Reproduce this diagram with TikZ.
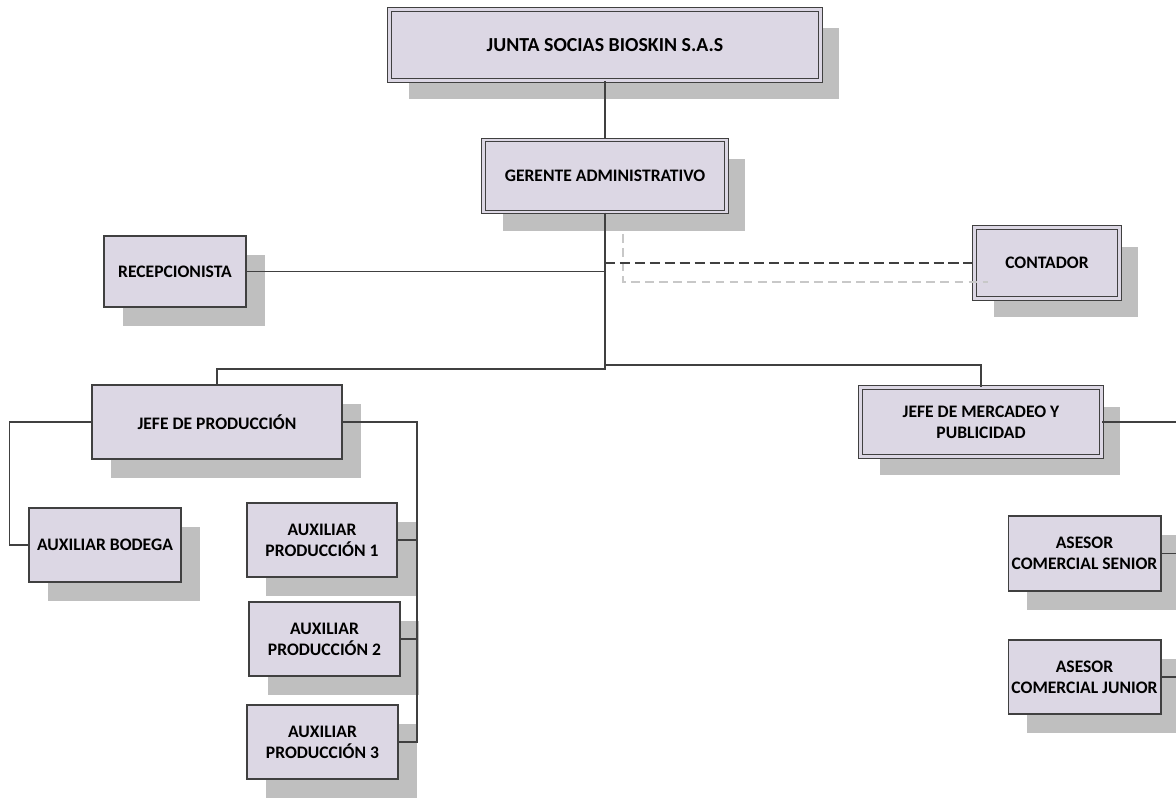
\documentclass[tikz,border=0pt]{standalone}
\usepackage{fontspec}
\setmainfont{Carlito}
\usetikzlibrary{shadows}
\definecolor{boxfill}{RGB}{220,215,228}
\definecolor{boxline}{RGB}{64,64,64}
\definecolor{shadowgray}{RGB}{191,191,191}
\definecolor{ghostgray}{RGB}{200,200,200}
\begin{document}
\begin{tikzpicture}[x=0.02cm, y=-0.02cm,
		orgbox/.style={draw=boxline, fill=boxfill, line width=0.6pt, inner sep=0pt, align=center,
			font=\bfseries\fontsize{10}{12}\selectfont,
			drop shadow={shadow xshift=0.38cm, shadow yshift=-0.38cm, fill=shadowgray, opacity=1}},
		dblbox/.style={orgbox, double=boxfill, double distance=1.6pt},
		link/.style={draw=boxline, line width=0.8pt},
		dashlink/.style={link, dash pattern=on 5.7pt off 2.8pt},
		ghostlink/.style={draw=ghostgray, line width=0.7pt, dash pattern=on 5pt off 3pt}]
	\path[use as bounding box] (0,0) rectangle (1176,800);
	\clip (0,0) rectangle (1176,800);
	\node[dblbox, minimum width=8.62cm, minimum height=1.42cm, font=\bfseries\fontsize{11.3}{13}\selectfont] (junta) at (605,45) {JUNTA SOCIAS BIOSKIN S.A.S};
	\node[dblbox, minimum width=4.86cm, minimum height=1.44cm] (gerente) at (605,176) {GERENTE ADMINISTRATIVO};
	\node[orgbox, minimum width=2.84cm, minimum height=1.42cm] (recep) at (175,271.5) {RECEPCIONISTA};
	\node[dblbox, minimum width=2.9cm, minimum height=1.42cm] (contador) at (1047,263) {CONTADOR};
	\node[orgbox, minimum width=5cm, minimum height=1.48cm] (jefeprod) at (217,422) {JEFE DE PRODUCCIÓN};
	\node[dblbox, minimum width=4.82cm, minimum height=1.38cm] (jefemerc) at (981,422) {JEFE DE MERCADEO Y\\PUBLICIDAD};
	\node[orgbox, minimum width=3.04cm, minimum height=1.48cm] (bodega) at (105,545) {AUXILIAR BODEGA};
	\node[orgbox, minimum width=3cm, minimum height=1.48cm] (aux1) at (322,540) {AUXILIAR\\PRODUCCIÓN 1};
	\node[orgbox, minimum width=3.02cm, minimum height=1.48cm] (aux2) at (324.5,639) {AUXILIAR\\PRODUCCIÓN 2};
	\node[orgbox, minimum width=3.02cm, minimum height=1.48cm] (aux3) at (322.5,742) {AUXILIAR\\PRODUCCIÓN 3};
	\node[orgbox, minimum width=3.06cm, minimum height=1.5cm] (senior) at (1084.5,553.5) {ASESOR\\COMERCIAL SENIOR};
	\node[orgbox, minimum width=3.06cm, minimum height=1.48cm] (junior) at (1084.5,677) {ASESOR\\COMERCIAL JUNIOR};
	\coordinate (ghoststart) at (623,234);
	\coordinate (ghostend) at (988,282);
	\coordinate (busleft) at (605,369);
	\coordinate (busright) at (605,365);
	\coordinate (prodtrunk) at (417,422);
	\coordinate (merctrunk) at (1190,422);
	\draw[ghostlink] (ghoststart) |- (ghostend);
	\draw[link] (junta.south) -- (gerente.north);
	\draw[link] (gerente.south) -- (busleft) -| (jefeprod.north);
	\draw[link] (busright) -| (jefemerc.north);
	\draw[link] (recep.east) -- (recep.east -| gerente.south);
	\draw[dashlink] (contador.west -| gerente.south) -- (contador.west);
	\draw[link] (jefeprod.west) -- ++(-82,0) |- (bodega.west);
	\draw[link] (jefeprod.east) -- (prodtrunk) |- (aux3.east);
	\draw[link] (aux1.east) -- (aux1.east -| prodtrunk);
	\draw[link] (aux2.east) -- (aux2.east -| prodtrunk);
	\draw[link] (jefemerc.east) -- (merctrunk) |- (junior.east);
	\draw[link] (senior.east) -- (senior.east -| merctrunk);
\end{tikzpicture}
\end{document}
